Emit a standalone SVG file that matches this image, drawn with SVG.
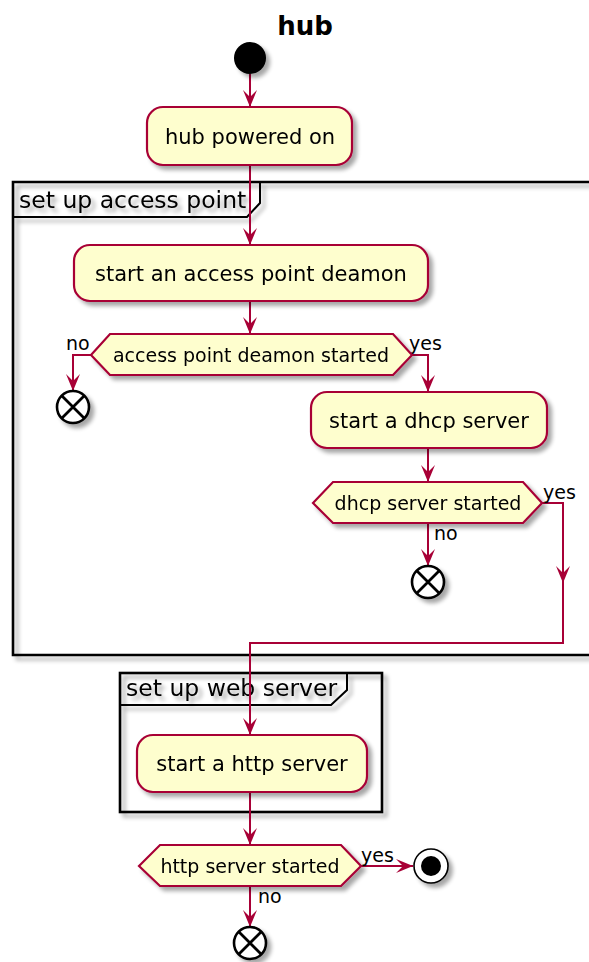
<svg xmlns="http://www.w3.org/2000/svg" width="589" height="962" viewBox="0 0 589 962">
<defs>
<style>
text{font-family:"DejaVu Sans","Liberation Sans",sans-serif;fill:#000}
.act{fill:#FEFECE;stroke:#A80036;stroke-width:2.2}
.t21{font-size:21px;text-anchor:middle}
.t19{font-size:19px;text-anchor:middle}
.lbl{font-size:19px}
.frame{fill:none;stroke:#000;stroke-width:2.6}
.tab{fill:none;stroke:#000;stroke-width:2}
.flow{fill:none;stroke:#A80036;stroke-width:2}
.endx{fill:#fff;stroke:#000;stroke-width:2.6}
.cross{stroke:#000;stroke-width:2.8}
</style>
<filter id="sh" x="-20%" y="-20%" width="150%" height="150%">
<feGaussianBlur in="SourceAlpha" stdDeviation="2.2"/>
<feOffset dx="4" dy="4" result="o"/>
<feComponentTransfer><feFuncA type="linear" slope="0.35"/></feComponentTransfer>
<feMerge><feMergeNode/><feMergeNode in="SourceGraphic"/></feMerge>
</filter>
<marker id="ah" viewBox="-18 -8 19 16" refX="0" refY="0" markerWidth="19" markerHeight="16" markerUnits="userSpaceOnUse" orient="auto">
<path d="M0,0 L-17,-7 L-10,0 L-17,7 Z" fill="#A80036"/>
</marker>
</defs>

<text x="305" y="35" style="font-size:26px;font-weight:bold;text-anchor:middle">hub</text>

<g id="frame-access-point" filter="url(#sh)">
<path class="frame" d="M600,182 L13,182 L13,655 L600,655"/>
<path class="tab" d="M13,217 L247,217 L260,203 L260,182"/>
<text x="19" y="208" style="font-size:23.5px">set up access point</text>
</g>

<g id="frame-web-server" filter="url(#sh)">
<rect class="frame" x="120" y="673" width="262" height="139"/>
<path class="tab" d="M120,705 L331,705 L347,690 L347,673"/>
<text x="126" y="696" style="font-size:23.5px">set up web server</text>
</g>

<g id="connectors">
<path class="flow" d="M250,74 L250,107" marker-end="url(#ah)"/>
<path class="flow" d="M250,165 L250,245" marker-end="url(#ah)"/>
<path class="flow" d="M250,301 L250,334" marker-end="url(#ah)"/>
<path class="flow" d="M91,355 L73,355 L73,391" marker-end="url(#ah)"/>
<path class="flow" d="M412,355 L428,355 L428,392" marker-end="url(#ah)"/>
<path class="flow" d="M428,448 L428,482" marker-end="url(#ah)"/>
<path class="flow" d="M428,523 L428,566" marker-end="url(#ah)"/>
<path class="flow" d="M542,503 L563,503 L563,583" marker-end="url(#ah)"/>
<path class="flow" d="M563,580 L563,643 L250,643 L250,735" marker-end="url(#ah)"/>
<path class="flow" d="M250,792 L250,845" marker-end="url(#ah)"/>
<path class="flow" d="M361,866 L413,866" marker-end="url(#ah)"/>
<path class="flow" d="M250,887 L250,927" marker-end="url(#ah)"/>
<text class="lbl" x="66" y="350">no</text>
<text class="lbl" x="409" y="350">yes</text>
<text class="lbl" x="543" y="499">yes</text>
<text class="lbl" x="434" y="540">no</text>
<text class="lbl" x="361" y="862">yes</text>
<text class="lbl" x="258" y="903">no</text>
</g>

<g id="start">
<circle cx="250" cy="58" r="16" fill="#000" filter="url(#sh)"/>
</g>

<g id="hub-powered-on" filter="url(#sh)">
<rect class="act" x="147" y="107" width="205" height="58" rx="16"/>
<text class="t21" x="250" y="144">hub powered on</text>
</g>

<g id="start-ap-deamon" filter="url(#sh)">
<rect class="act" x="74" y="245" width="354" height="56" rx="16"/>
<text class="t21" x="251" y="281">start an access point deamon</text>
</g>

<g id="ap-deamon-started" filter="url(#sh)">
<polygon class="act" points="91,355 110,334 393,334 412,355 393,375 110,375"/>
<text class="t19" x="251" y="362">access point deamon started</text>
</g>

<g id="end-ap" filter="url(#sh)">
<circle class="endx" cx="73" cy="407" r="16"/>
<path class="cross" d="M62,396 L84,418 M84,396 L62,418"/>
</g>

<g id="start-dhcp" filter="url(#sh)">
<rect class="act" x="311" y="392" width="236" height="56" rx="16"/>
<text class="t21" x="429" y="428">start a dhcp server</text>
</g>

<g id="dhcp-started" filter="url(#sh)">
<polygon class="act" points="313,503 333,482 523,482 542,503 523,523 333,523"/>
<text class="t19" x="428" y="510">dhcp server started</text>
</g>

<g id="end-dhcp" filter="url(#sh)">
<circle class="endx" cx="428" cy="582" r="16"/>
<path class="cross" d="M417,571 L439,593 M439,571 L417,593"/>
</g>

<g id="start-http" filter="url(#sh)">
<rect class="act" x="137" y="735" width="230" height="57" rx="16"/>
<text class="t21" x="252" y="771">start a http server</text>
</g>

<g id="http-started" filter="url(#sh)">
<polygon class="act" points="139,866 160,845 341,845 361,866 341,886 160,886"/>
<text class="t19" x="250" y="873">http server started</text>
</g>

<g id="stop" filter="url(#sh)">
<circle cx="431" cy="866" r="17" fill="#fff" stroke="#000" stroke-width="1.6"/>
<circle cx="431" cy="866" r="10" fill="#000"/>
</g>

<g id="end-http" filter="url(#sh)">
<circle class="endx" cx="250" cy="943" r="16"/>
<path class="cross" d="M239,932 L261,954 M261,932 L239,954"/>
</g>
</svg>
